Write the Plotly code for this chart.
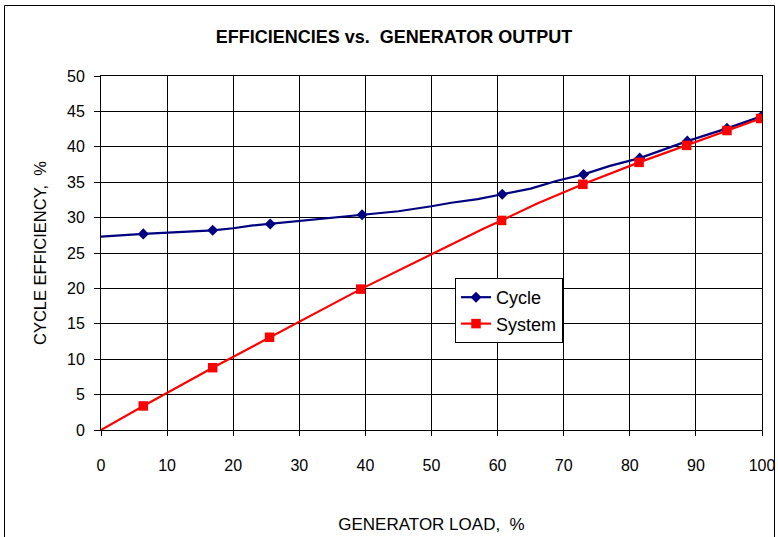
import plotly.graph_objects as go

# Cycle series
cycle_marker_x = [6.4, 16.9, 25.6, 39.5, 60.7, 73.0, 81.5, 88.7, 94.7, 99.9]
cycle_marker_y = [27.7, 28.2, 29.1, 30.4, 33.3, 36.1, 38.4, 40.8, 42.6, 44.3]
cycle_extra_x = [0, 20, 23, 45, 50, 53, 57, 65, 69, 77]
cycle_extra_y = [27.3, 28.5, 28.9, 30.9, 31.6, 32.1, 32.6, 34.1, 35.2, 37.3]

# System series
system_marker_x = [6.4, 16.9, 25.5, 39.3, 60.6, 72.9, 81.4, 88.6, 94.7, 99.8]
system_marker_y = [3.4, 8.8, 13.1, 19.9, 29.6, 34.7, 37.8, 40.2, 42.3, 44.0]
system_extra_x = [0, 58, 66]
system_extra_y = [0, 28.5, 32.0]

x_ticks = list(range(0, 101, 10))
y_ticks = list(range(0, 51, 5))


def merge(mx, my, ex, ey, color):
    # ordered from high to low x so that the first point carries a visible marker
    pts = [(x, y, color) for x, y in zip(mx, my)] + \
          [(x, y, "rgba(0,0,0,0)") for x, y in zip(ex, ey)]
    pts.sort(key=lambda p: -p[0])
    return [p[0] for p in pts], [p[1] for p in pts], [p[2] for p in pts]


NAVY = "#000080"
RED = "#FF0000"
cx, cy, cc = merge(cycle_marker_x, cycle_marker_y, cycle_extra_x, cycle_extra_y, NAVY)
sx, sy, sc = merge(system_marker_x, system_marker_y, system_extra_x, system_extra_y, RED)

FONT = "Liberation Sans, Arial, sans-serif"

fig = go.Figure()
fig.add_trace(go.Scatter(
    x=cx, y=cy, mode="lines+markers", name="Cycle",
    line=dict(color=NAVY, width=2.2),
    marker=dict(symbol="diamond", size=8.5, color=cc, line=dict(width=0)),
))
fig.add_trace(go.Scatter(
    x=sx, y=sy, mode="lines+markers", name="System",
    line=dict(color=RED, width=2.2),
    marker=dict(symbol="square", size=9.5, color=sc, line=dict(width=0)),
))

fig.update_layout(
    width=778, height=537,
    margin=dict(l=101, r=16, t=76, b=107),
    paper_bgcolor="white", plot_bgcolor="white",
    font=dict(family=FONT, size=16, color="black"),
    title=dict(text="<b>EFFICIENCIES vs.  GENERATOR OUTPUT</b>", x=394 / 778, xanchor="center",
               y=1 - 37 / 537, yanchor="middle", font=dict(size=18, family=FONT)),
    showlegend=True,
    legend=dict(x=(455 - 101) / 661, y=(430 - 278) / 354, xanchor="left", yanchor="top",
                bgcolor="white", bordercolor="black", borderwidth=1,
                font=dict(size=18, family=FONT), itemsizing="trace",
                tracegroupgap=0),
    xaxis=dict(range=[0, 100], tickvals=x_ticks, ticktext=[str(v) for v in x_ticks],
               showgrid=True, gridcolor="black", gridwidth=1,
               showline=True, linecolor="black", linewidth=1, mirror=True,
               ticks="outside", ticklen=5, tickcolor="black", ticklabelstandoff=16,
               zeroline=False, automargin=False,
               title=dict(text="GENERATOR LOAD,  %", standoff=44, font=dict(size=17))),
    yaxis=dict(range=[0, 50], tickvals=y_ticks, ticktext=[str(v) for v in y_ticks],
               showgrid=True, gridcolor="black", gridwidth=1,
               showline=True, linecolor="black", linewidth=1, mirror=True,
               ticks="outside", ticklen=6, tickcolor="black", ticklabelstandoff=6,
               zeroline=False, automargin=False,
               title=dict(text="CYCLE EFFICIENCY,  %", standoff=16, font=dict(size=16.5))),
)

# Outer chart border
fig.add_shape(type="rect", xref="paper", yref="paper",
              x0=(4.5 - 101) / 661, x1=(774.5 - 101) / 661,
              y0=(430 - 560) / 354, y1=(430 - 5.5) / 354,
              line=dict(color="black", width=1), layer="below")

fig.write_html("out.html", config={"displayModeBar": False},
               post_script="document.body.style.margin='0';document.body.style.padding='0';")
